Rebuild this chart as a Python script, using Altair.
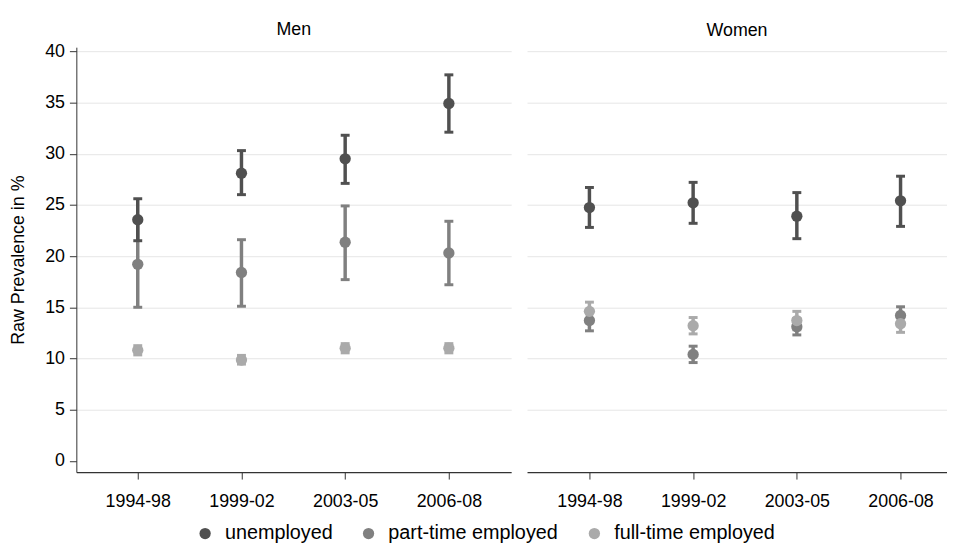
import altair as alt
import pandas as pd

periods = ["1994-98", "1999-02", "2003-05", "2006-08"]
groups = ["unemployed", "part-time employed", "full-time employed"]
colors = ["#505050", "#808080", "#aaaaaa"]

# Men
men_unemp_est = [23.55, 28.1, 29.5, 34.9]
men_unemp_lo = [21.5, 26.0, 27.1, 32.1]
men_unemp_hi = [25.6, 30.3, 31.8, 37.7]
men_part_est = [19.2, 18.4, 21.35, 20.3]
men_part_lo = [15.0, 15.1, 17.7, 17.2]
men_part_hi = [23.4, 21.6, 24.9, 23.4]
men_full_est = [10.8, 9.85, 11.0, 11.0]
men_full_lo = [10.35, 9.45, 10.55, 10.55]
men_full_hi = [11.25, 10.3, 11.45, 11.45]

# Women
wom_unemp_est = [24.74, 25.2, 23.9, 25.4]
wom_unemp_lo = [22.8, 23.2, 21.7, 22.9]
wom_unemp_hi = [26.7, 27.2, 26.2, 27.8]
wom_part_est = [13.7, 10.4, 13.1, 14.2]
wom_part_lo = [12.7, 9.6, 12.3, 13.35]
wom_part_hi = [14.6, 11.2, 13.9, 15.05]
wom_full_est = [14.6, 13.2, 13.7, 13.4]
wom_full_lo = [13.7, 12.4, 12.8, 12.55]
wom_full_hi = [15.5, 14.0, 14.6, 14.25]


def build(series):
    rows = []
    # drawing order: part-time, full-time, unemployed (on top)
    for g, est, lo, hi in series:
        for i, (p, e, l, h) in enumerate(zip(periods, est, lo, hi)):
            rows.append({"period": p, "idx": i, "group": g, "est": e, "lo": l, "hi": h})
    return pd.DataFrame(rows)


men_df = build([
    ("part-time employed", men_part_est, men_part_lo, men_part_hi),
    ("full-time employed", men_full_est, men_full_lo, men_full_hi),
    ("unemployed", men_unemp_est, men_unemp_lo, men_unemp_hi),
])
wom_df = build([
    ("part-time employed", wom_part_est, wom_part_lo, wom_part_hi),
    ("full-time employed", wom_full_est, wom_full_lo, wom_full_hi),
    ("unemployed", wom_unemp_est, wom_unemp_lo, wom_unemp_hi),
])

FONT = "Liberation Sans"
FS = 18

color_scale = alt.Scale(domain=groups, range=colors)
y_scale = alt.Scale(domain=[-1.1, 40.4], nice=False, zero=False)

grid_op = {"condition": {"test": "datum.value == 0", "value": 0}, "value": 1}
label_expr = "[" + ",".join("'%s'" % p for p in periods) + "][datum.value]"

LEGEND = alt.Legend(title=None, orient="none", direction="horizontal",
                    legendX=120, legendY=481,
                    labelFontSize=20, labelFont=FONT, labelColor="#000", labelLimit=0,
                    symbolSize=130, symbolType="circle",
                    symbolStrokeWidth=0, symbolOpacity=1,
                    labelOffset=10, columnPadding=26)


def panel(df, title, width, left, xdom, title_offset):
    x_scale = alt.Scale(domain=xdom, nice=False, zero=False)
    x_axis = alt.Axis(title=None, values=list(range(len(periods))), labelExpr=label_expr,
                      labelFontSize=FS, labelFont=FONT, labelColor="#000",
                      tickSize=7, tickColor="#333", domainColor="#333", domainWidth=1.4,
                      labelPadding=14, grid=False, labelAngle=0, labelFlush=False)
    if left:
        y_axis = alt.Axis(title="Raw Prevalence in %", titleFontSize=18, titleFont=FONT,
                          titleFontWeight="normal", titleColor="#000", titlePadding=17,
                          values=list(range(0, 41, 5)), labelFontSize=FS, labelFont=FONT,
                          labelColor="#000", tickSize=7, tickColor="#333",
                          domainColor="#333", labelPadding=5,
                          grid=True, gridColor="#e6e6e6", gridOpacity=grid_op)
    else:
        y_axis = alt.Axis(title=None, labels=False, ticks=False, domain=False,
                          values=list(range(0, 41, 5)),
                          grid=True, gridColor="#e6e6e6", gridOpacity=grid_op)
    base = alt.Chart(df)
    rules = base.mark_rule(strokeWidth=3.5).encode(
        x=alt.X("idx:Q", scale=x_scale, axis=x_axis),
        y=alt.Y("lo:Q", scale=y_scale, axis=y_axis),
        y2="hi:Q",
        stroke=alt.Stroke("group:N", scale=color_scale, sort=groups, legend=LEGEND),
    )
    caps_lo = base.mark_tick(thickness=3, size=9, opacity=1, orient="horizontal").encode(
        x=alt.X("idx:Q", scale=x_scale),
        y=alt.Y("lo:Q", scale=y_scale),
        fill=alt.Fill("group:N", scale=color_scale, sort=groups, legend=LEGEND),
    )
    caps_hi = base.mark_tick(thickness=3, size=9, opacity=1, orient="horizontal").encode(
        x=alt.X("idx:Q", scale=x_scale),
        y=alt.Y("hi:Q", scale=y_scale),
        fill=alt.Fill("group:N", scale=color_scale, sort=groups, legend=LEGEND),
    )
    pts = base.mark_point(filled=True, size=130, opacity=1, shape="circle").encode(
        x=alt.X("idx:Q", scale=x_scale),
        y=alt.Y("est:Q", scale=y_scale),
        fill=alt.Fill("group:N", scale=color_scale, sort=groups, legend=LEGEND),
    )
    return alt.layer(rules, caps_lo, caps_hi, pts).properties(
        width=width, height=429,
        title=alt.Title(title, fontSize=FS, font=FONT, fontWeight="normal", color="#000",
                        offset=title_offset),
    )


STEP = 104.7
left = panel(men_df, "Men", 439, True, [-62 / STEP, (439 - 62) / STEP], 3)
right = panel(wom_df, "Women", 424, False, [-63 / STEP, (424 - 63) / STEP], 7)

chart = alt.hconcat(left, right, spacing=16).resolve_scale(
    fill="shared", stroke="shared"
).configure(
    padding={"left": 1, "top": 11, "right": 0, "bottom": 0},
    view=alt.ViewConfig(stroke=None),
)

chart.save("out.html", embed_options={"renderer": "svg", "actions": False})
